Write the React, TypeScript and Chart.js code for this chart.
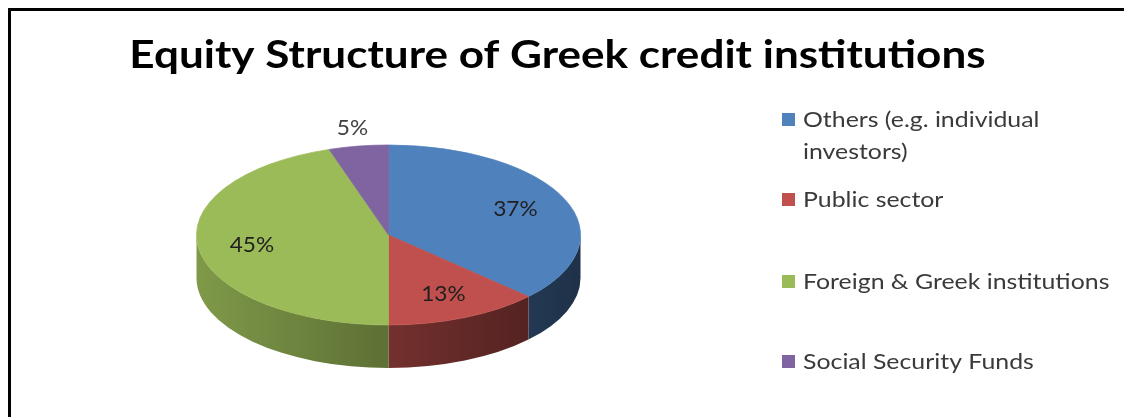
import React, { useEffect, useRef } from "react";
import { Chart, registerables } from "chart.js";

Chart.register(...registerables);

const TITLE = "Equity Structure of Greek credit institutions";
const CATEGORIES: string[][] = [
  ["Others (e.g. individual", "investors)"],
  ["Public sector"],
  ["Foreign & Greek institutions"],
  ["Social Security Funds"],
];
const VALUES = [37, 13, 45, 5];
const COLORS = ["#4F81BD", "#C0504D", "#9BBB59", "#8064A2"];

const W = 1113;
const H = 406;
const CX = 377.5;
const CY_TOP = 224;
const RX = 192;
const RY = 90;
const DEPTH = 43;
const STRETCH = 1.13;
const FONT = "Lato, 'Open Sans', sans-serif";

function shade(hex: string, f: number) {
  const n = parseInt(hex.slice(1), 16);
  const r = Math.round(((n >> 16) & 255) * f);
  const g = Math.round(((n >> 8) & 255) * f);
  const b = Math.round((n & 255) * f);
  return `rgb(${r},${g},${b})`;
}

function textStretched(
  ctx: CanvasRenderingContext2D,
  text: string,
  x: number,
  y: number,
  align: CanvasTextAlign,
  sx: number
) {
  ctx.save();
  ctx.translate(x, y);
  ctx.scale(sx, 1);
  ctx.textAlign = align;
  ctx.fillText(text, 0, 0);
  ctx.restore();
}

const pie3d = {
  id: "pie3d",
  beforeDatasetsDraw(chart: any) {
    const ctx = chart.ctx as CanvasRenderingContext2D;
    const meta = chart.getDatasetMeta(0);
    const arcs = meta.data as any[];
    const cyCircle = arcs.length ? arcs[0].y : 0;
    const cx = arcs.length ? arcs[0].x : CX;
    const r = arcs.length ? arcs[0].outerRadius : RX;
    const k = RY / r;
    arcs.forEach((arc, i) => {
      const a0 = Math.max(arc.startAngle, 0);
      const a1 = Math.min(arc.endAngle, Math.PI);
      if (a1 <= a0) return;
      const grad = ctx.createLinearGradient(cx - r, 0, cx + r, 0);
      grad.addColorStop(0, shade(COLORS[i], 0.82));
      grad.addColorStop(0.5, shade(COLORS[i], 0.6));
      grad.addColorStop(1, shade(COLORS[i], 0.38));
      ctx.save();
      ctx.beginPath();
      ctx.ellipse(cx, CY_TOP, r, r * k, 0, a0, a1, false);
      ctx.ellipse(cx, CY_TOP + DEPTH, r, r * k, 0, a1, a0, true);
      ctx.closePath();
      ctx.fillStyle = grad;
      ctx.fill();
      ctx.restore();
    });
    ctx.save();
    ctx.translate(0, CY_TOP);
    ctx.scale(1, k);
    ctx.translate(0, -cyCircle);
  },
  afterDatasetsDraw(chart: any) {
    const ctx = chart.ctx as CanvasRenderingContext2D;
    ctx.restore();
    const meta = chart.getDatasetMeta(0);
    const arcs = meta.data as any[];
    const total = VALUES.reduce((a, b) => a + b, 0);
    ctx.save();
    ctx.font = `21px ${FONT}`;
    ctx.textBaseline = "middle";
    arcs.forEach((arc, i) => {
      const pct = (VALUES[i] / total) * 100;
      const mid = (arc.startAngle + arc.endAngle) / 2;
      const f = pct < 10 ? 1.2 : 0.72;
      const x = arc.x + Math.cos(mid) * arc.outerRadius * f;
      const y = CY_TOP + Math.sin(mid) * RY * f;
      ctx.fillStyle = pct < 10 ? "#404040" : "#1f1f1f";
      textStretched(ctx, `${Math.round(pct)}%`, x, y, "center", 1.08);
    });
    ctx.restore();
  },
  afterDraw(chart: any) {
    const ctx = chart.ctx as CanvasRenderingContext2D;
    ctx.save();
    ctx.fillStyle = "#000";
    ctx.font = `bold 39px ${FONT}`;
    ctx.textBaseline = "alphabetic";
    textStretched(ctx, TITLE, 546.5, 57, "center", STRETCH);
    const rowY = [109, 189, 271, 351];
    ctx.font = `22px ${FONT}`;
    ctx.textBaseline = "middle";
    CATEGORIES.forEach((lines, i) => {
      ctx.fillStyle = COLORS[i];
      ctx.fillRect(771, rowY[i] - 7, 13, 13);
      ctx.fillStyle = "#3a3a3a";
      lines.forEach((ln, j) => textStretched(ctx, ln, 792, rowY[i] + j * 32, "left", STRETCH));
    });
    ctx.restore();
  },
};

export default function App() {
  const ref = useRef<HTMLCanvasElement>(null);
  useEffect(() => {
    if (!ref.current) return;
    const chart = new Chart(ref.current, {
      type: "pie",
      data: {
        labels: CATEGORIES.map((l) => l.join(" ")),
        datasets: [
          {
            data: VALUES,
            backgroundColor: COLORS,
            borderColor: COLORS,
            borderWidth: 1,
            hoverOffset: 0,
            clip: false as any,
          },
        ],
      },
      options: {
        responsive: false,
        animation: false,
        radius: RX,
        layout: { padding: { left: 0, right: W - 2 * CX, top: 0, bottom: 0 } },
        plugins: { legend: { display: false }, tooltip: { enabled: false }, title: { display: false } },
        events: [],
      } as any,
      plugins: [pie3d],
    });
    return () => chart.destroy();
  }, []);
  return (
    <div
      style={{
        position: "absolute",
        left: 8,
        top: 8,
        right: 0,
        height: 409,
        boxSizing: "border-box",
        borderTop: "3px solid #000",
        borderLeft: "3px solid #000",
        background: "#fff",
        overflow: "hidden",
      }}
    >
      <canvas ref={ref} width={W} height={H} style={{ display: "block", width: W, height: H }} />
    </div>
  );
}
